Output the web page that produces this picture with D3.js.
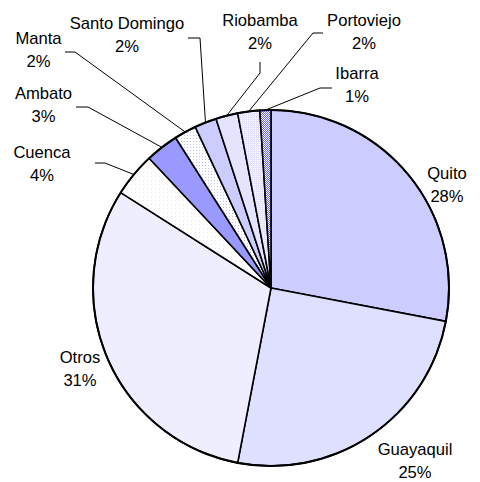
<!DOCTYPE html>
<html>
<head>
<meta charset="utf-8">
<script src="https://cdn.jsdelivr.net/npm/d3@7"></script>
<style>
  html, body { margin: 0; padding: 0; background: #fff; }
  svg { display: block; }
  text { font-family: "Liberation Sans", Arial, sans-serif; font-size: 16.6px; fill: #000; }
</style>
</head>
<body>
<svg id="chart" width="480" height="482"></svg>
<script>
// Share of establishments by city (%)
const cities = ["Quito", "Guayaquil", "Otros", "Cuenca", "Ambato", "Manta",
                "Santo Domingo", "Riobamba", "Portoviejo", "Ibarra"];
const shares = [28, 25, 31, 4, 3, 2, 2, 2, 2, 1];

// Slice fills: plain colours or pattern ids
const fills = ["#ccccff", "#dfdfff", "#eeeeff", "url(#sparseDots)", "#9999ff",
               "url(#lightDots)", "#ccccff", "#e4e4ff", "url(#denseDots)", "url(#checker)"];

// Label placement: centre x, first baseline; optional leader (start, elbow)
const labelLayout = {
  "Quito":         { x: 447, y: 179 },
  "Guayaquil":     { x: 415, y: 455 },
  "Otros":         { x: 80,  y: 363 },
  "Cuenca":        { x: 42,  y: 158, leader: [[95, 163], [105, 163]] },
  "Ambato":        { x: 43.5, y: 99, leader: [[76, 107], [88, 107]] },
  "Manta":         { x: 38.5, y: 44, leader: [[65, 52], [75, 52]] },
  "Santo Domingo": { x: 127, y: 29,  leader: [[188, 38], [200, 38]] },
  "Riobamba":      { x: 260, y: 26,  leader: [[260, 62], [260, 73]] },
  "Portoviejo":    { x: 364, y: 26,  leader: [[323, 33], [313, 33]] },
  "Ibarra":        { x: 357, y: 79,  leader: [[332, 88], [320, 88]] }
};

const cx = 271, cy = 288, radius = 178;
const lineGap = 23;

const svg = d3.select("#chart");
const defs = svg.append("defs");

// Pattern fills
const sparse = defs.append("pattern").attr("id", "sparseDots")
  .attr("patternUnits", "userSpaceOnUse").attr("width", 4).attr("height", 4);
sparse.append("rect").attr("width", 4).attr("height", 4).attr("fill", "#ffffff");
sparse.append("rect").attr("width", 1).attr("height", 1).attr("fill", "#e6e6ff");

const light = defs.append("pattern").attr("id", "lightDots")
  .attr("patternUnits", "userSpaceOnUse").attr("width", 3).attr("height", 3);
light.append("rect").attr("width", 3).attr("height", 3).attr("fill", "#ffffff");
light.append("rect").attr("width", 1).attr("height", 1).attr("fill", "#c0c0ff");

const dense = defs.append("pattern").attr("id", "denseDots")
  .attr("patternUnits", "userSpaceOnUse").attr("width", 2).attr("height", 2);
dense.append("rect").attr("width", 2).attr("height", 2).attr("fill", "#e4e4ff");
dense.append("rect").attr("width", 1).attr("height", 1).attr("fill", "#ffffff");

const checker = defs.append("pattern").attr("id", "checker")
  .attr("patternUnits", "userSpaceOnUse").attr("width", 2).attr("height", 2);
checker.append("rect").attr("width", 2).attr("height", 2).attr("fill", "#ffffff");
checker.append("rect").attr("width", 1).attr("height", 1).attr("fill", "#6666ff");
checker.append("rect").attr("x", 1).attr("y", 1).attr("width", 1).attr("height", 1).attr("fill", "#6666ff");

const data = cities.map((c, i) => ({ city: c, value: shares[i], fill: fills[i] }));

const pie = d3.pie().value(d => d.value).sort(null);
const arcs = pie(data);
const arc = d3.arc().innerRadius(0).outerRadius(radius);
const edgeArc = d3.arc().innerRadius(radius).outerRadius(radius);

const g = svg.append("g").attr("transform", `translate(${cx},${cy})`);

g.selectAll("path.slice")
  .data(arcs)
  .join("path")
  .attr("class", "slice")
  .attr("d", arc)
  .attr("fill", d => d.data.fill)
  .attr("stroke", "#000")
  .attr("stroke-width", 1.6)
  .attr("stroke-linejoin", "round");

// Thicker outer rim
g.append("circle")
  .attr("r", radius)
  .attr("fill", "none")
  .attr("stroke", "#000")
  .attr("stroke-width", 2);

// Leader lines from label to the middle of the slice's outer edge
const leaderLine = d3.line();
svg.selectAll("path.leader")
  .data(arcs.filter(d => labelLayout[d.data.city].leader))
  .join("path")
  .attr("class", "leader")
  .attr("fill", "none")
  .attr("stroke", "#000")
  .attr("stroke-width", 1)
  .attr("d", d => {
    const [ex, ey] = edgeArc.centroid(d);
    const pts = labelLayout[d.data.city].leader.concat([[cx + ex, cy + ey]]);
    return leaderLine(pts);
  });

// Two-line labels: city name and percentage
const labels = svg.selectAll("text.label")
  .data(arcs)
  .join("text")
  .attr("class", "label")
  .attr("text-anchor", "middle");

labels.append("tspan")
  .attr("x", d => labelLayout[d.data.city].x)
  .attr("y", d => labelLayout[d.data.city].y)
  .text(d => d.data.city);

labels.append("tspan")
  .attr("x", d => labelLayout[d.data.city].x)
  .attr("y", d => labelLayout[d.data.city].y + lineGap)
  .text(d => d.data.value + "%");
</script>
</body>
</html>
